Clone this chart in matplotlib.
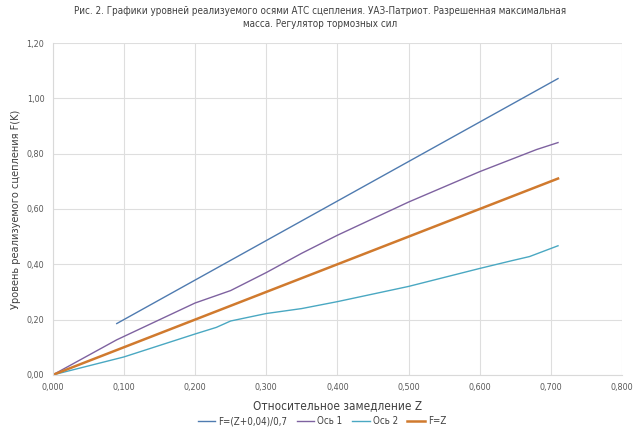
import matplotlib
matplotlib.use('Agg')
import matplotlib.pyplot as plt
from matplotlib.ticker import FuncFormatter

plt.rcParams['font.family'] = ['DejaVu Sans']
plt.rcParams['font.stretch'] = 'condensed'

# F=(Z+0,04)/0,7
z_f = [0.09, 0.71]
f_f = [(z + 0.04) / 0.7 for z in z_f]

# Ось 1
z_os1 = [0.0, 0.09, 0.2, 0.25, 0.3, 0.35, 0.4, 0.5, 0.6, 0.65, 0.68, 0.71]
f_os1 = [0.0, 0.127, 0.26, 0.305, 0.37, 0.44, 0.505, 0.625, 0.735, 0.785, 0.815, 0.84]

# Ось 2
z_os2 = [0.0, 0.1, 0.2, 0.23, 0.25, 0.3, 0.35, 0.4, 0.5, 0.6, 0.645, 0.67, 0.71]
f_os2 = [0.0, 0.065, 0.148, 0.172, 0.195, 0.222, 0.24, 0.265, 0.32, 0.385, 0.413, 0.428, 0.467]

# F=Z
z_fz = [0.0, 0.71]
f_fz = [0.0, 0.71]

title = ('Рис. 2. Графики уровней реализуемого осями АТС сцепления. УАЗ-Патриот. Разрешенная максимальная\n'
         'масса. Регулятор тормозных сил')

fig = plt.figure(figsize=(6.4, 4.37), dpi=100)
ax = fig.add_axes([0.0823, 0.142, 0.8897, 0.7596])

ax.plot(z_f, f_f, color='#4f7bb0', lw=1.0, label='F=(Z+0,04)/0,7')
ax.plot(z_os1, f_os1, color='#7e62a0', lw=1.0, label='Ось 1')
ax.plot(z_os2, f_os2, color='#4aa8c2', lw=1.0, label='Ось 2')
ax.plot(z_fz, f_fz, color='#d07a2e', lw=1.8, label='F=Z')

ax.set_xlim(0, 0.8)
ax.set_ylim(0, 1.2)
ax.set_xticks([i / 10 for i in range(9)])
ax.set_yticks([i / 5 for i in range(7)])
ax.xaxis.set_major_formatter(FuncFormatter(lambda v, p: ('%.3f' % v).replace('.', ',')))
ax.yaxis.set_major_formatter(FuncFormatter(lambda v, p: ('%.2f' % v).replace('.', ',')))
ax.tick_params(length=0, labelsize=6.5, colors='#595959', pad=6)
ax.grid(True, color='#dedede', lw=0.8)
ax.set_axisbelow(True)
for s in ax.spines.values():
    s.set_visible(False)
ax.spines['left'].set_visible(True)
ax.spines['bottom'].set_visible(True)
ax.spines['left'].set_color('#d9d9d9')
ax.spines['bottom'].set_color('#d9d9d9')

ax.set_xlabel('Относительное замедление Z', fontsize=8.5, color='#404040', labelpad=5)
ax.set_ylabel('Уровень реализуемого сцепления F(K)', fontsize=7.8, color='#404040', labelpad=4)

fig.text(0.5, 0.986, title, ha='center', va='top', fontsize=7.1, color='#404040',
         multialignment='center', linespacing=1.3)

ax.legend(loc='center', bbox_to_anchor=(0.473, -0.14), ncol=4, frameon=False,
          fontsize=7, handlelength=1.8, columnspacing=1.0, handletextpad=0.3,
          labelcolor='#404040')

fig.savefig('out.png', dpi=100)
